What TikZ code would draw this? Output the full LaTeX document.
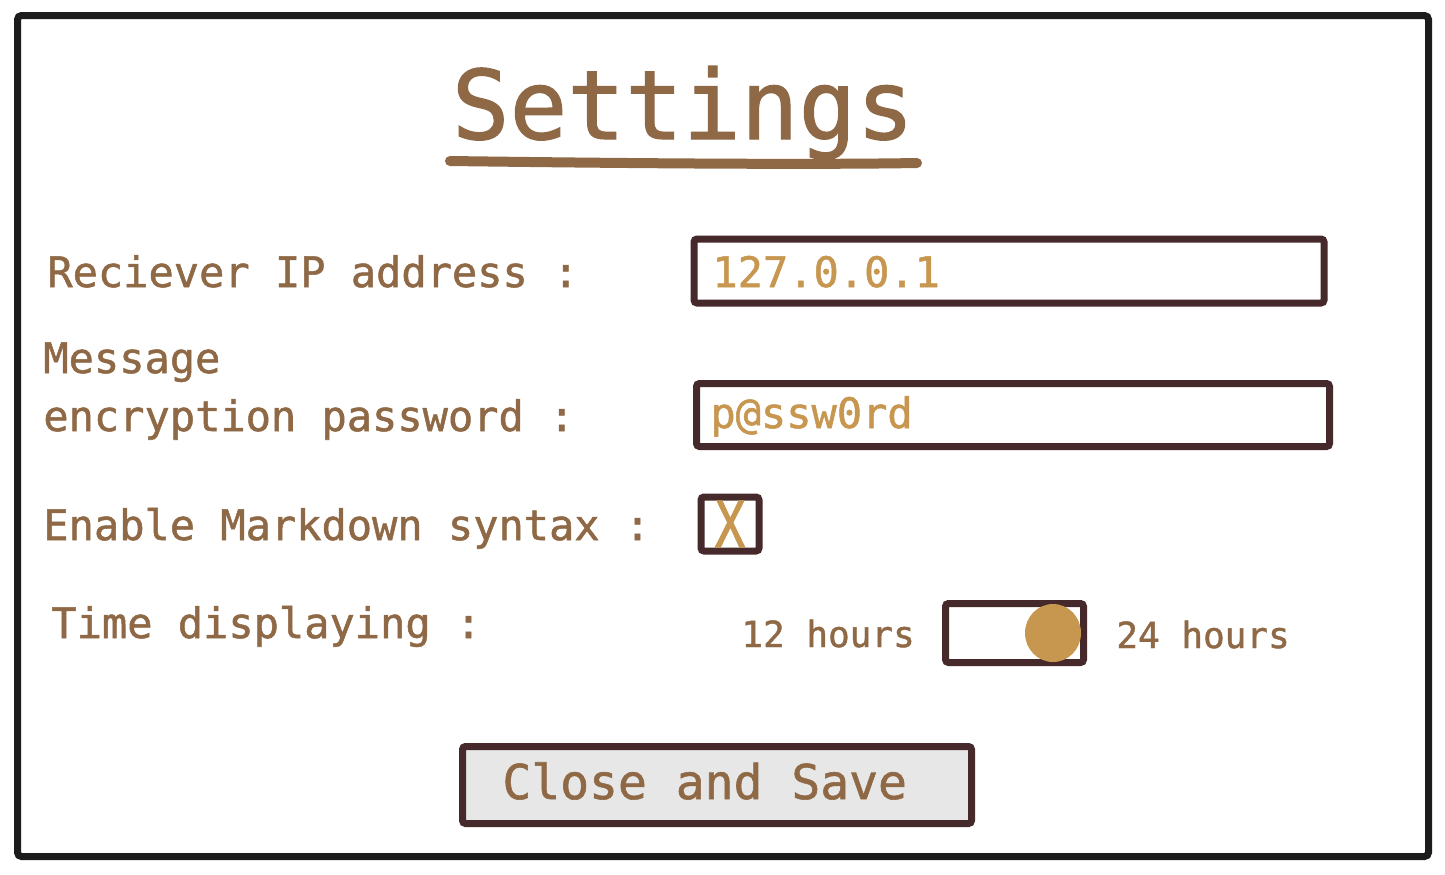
\documentclass[tikz,border=0pt]{standalone}
\usepackage{fontspec}
\usetikzlibrary{shapes.geometric}
\newfontfamily\uifont{DejaVu Sans Mono}[FakeBold=1.2]
\definecolor{labelc}{HTML}{8F6946}
\definecolor{goldc}{HTML}{C7964F}
\definecolor{borderc}{HTML}{45292B}
\definecolor{framec}{HTML}{1C1C1C}
\definecolor{btnfill}{HTML}{E7E7E7}
\begin{document}
\begin{tikzpicture}[x=0.5pt,y=-0.5pt,
  lbl/.style={anchor=base west,inner sep=0pt,text=labelc,font=\uifont\fontsize{21}{25}\selectfont},
  val/.style={anchor=base west,inner sep=0pt,text=goldc,font=\uifont\fontsize{21}{25}\selectfont},
  hrs/.style={anchor=base west,inner sep=0pt,text=labelc,font=\uifont\fontsize{18}{22}\selectfont},
  uibox/.style={draw=borderc,line width=3.5pt,rounded corners=1.5pt,inner sep=0pt,fill=white}]
\useasboundingbox (0,0) rectangle (1445,874);
\fill[white] (0,0) rectangle (1445,874);
\draw[framec,line width=3.5pt,rounded corners=2pt] (17.5,15.5) rectangle (1428.5,856.5);
% title
\node[anchor=base,inner sep=0pt,text=labelc,font=\uifont\fontsize{48}{56}\selectfont] (title) at (683,139) {Settings};
\coordinate (ulA) at (450,161);
\coordinate (ulB) at (917,163);
\draw[labelc,line width=5pt,line cap=round] (ulA) .. controls (600,163) and (800,165) .. (ulB);
% labels
\node[lbl] (l1) at (47,287) {Reciever IP address :};
\node[lbl] (l2a) at (43,373) {Message};
\node[lbl] (l2b) at (43,431) {encryption password :};
\node[lbl] (l3) at (43,540) {Enable Markdown syntax :};
\node[lbl] (l4) at (51,638) {Time displaying :};
% inputs
\node[uibox,minimum width=315pt,minimum height=32pt] (ip) at (1009,271) {};
\node[val] (ipv) at (712,287) {127.0.0.1};
\node[uibox,minimum width=316.5pt,minimum height=31.5pt] (pw) at (1013,415) {};
\node[val] (pwv) at (710,428) {p@ssw0rd};
% checkbox
\node[uibox,minimum width=29pt,minimum height=27pt] (cb) at (730,524) {};
\node[inner sep=0pt,text=goldc,font=\uifont\fontsize{32}{36}\selectfont,xscale=0.8] (cbx) at (730,524) {X};
% toggle
\node[hrs] (h12) at (741,647) {12 hours};
\node[uibox,minimum width=69pt,minimum height=29.5pt] (tg) at (1014.5,633) {};
\node[ellipse,fill=goldc,minimum width=28pt,minimum height=29pt,inner sep=0pt] (knob) at (1053,633) {};
\node[hrs] (h24) at (1116,648) {24 hours};
% button
\node[uibox,fill=btnfill,minimum width=254.5pt,minimum height=38.5pt] (btn) at (717,785) {};
\node[anchor=base west,inner sep=0pt,text=labelc,font=\uifont\fontsize{24}{29}\selectfont] (btnt) at (502,799) {Close and Save};
\end{tikzpicture}
\end{document}
